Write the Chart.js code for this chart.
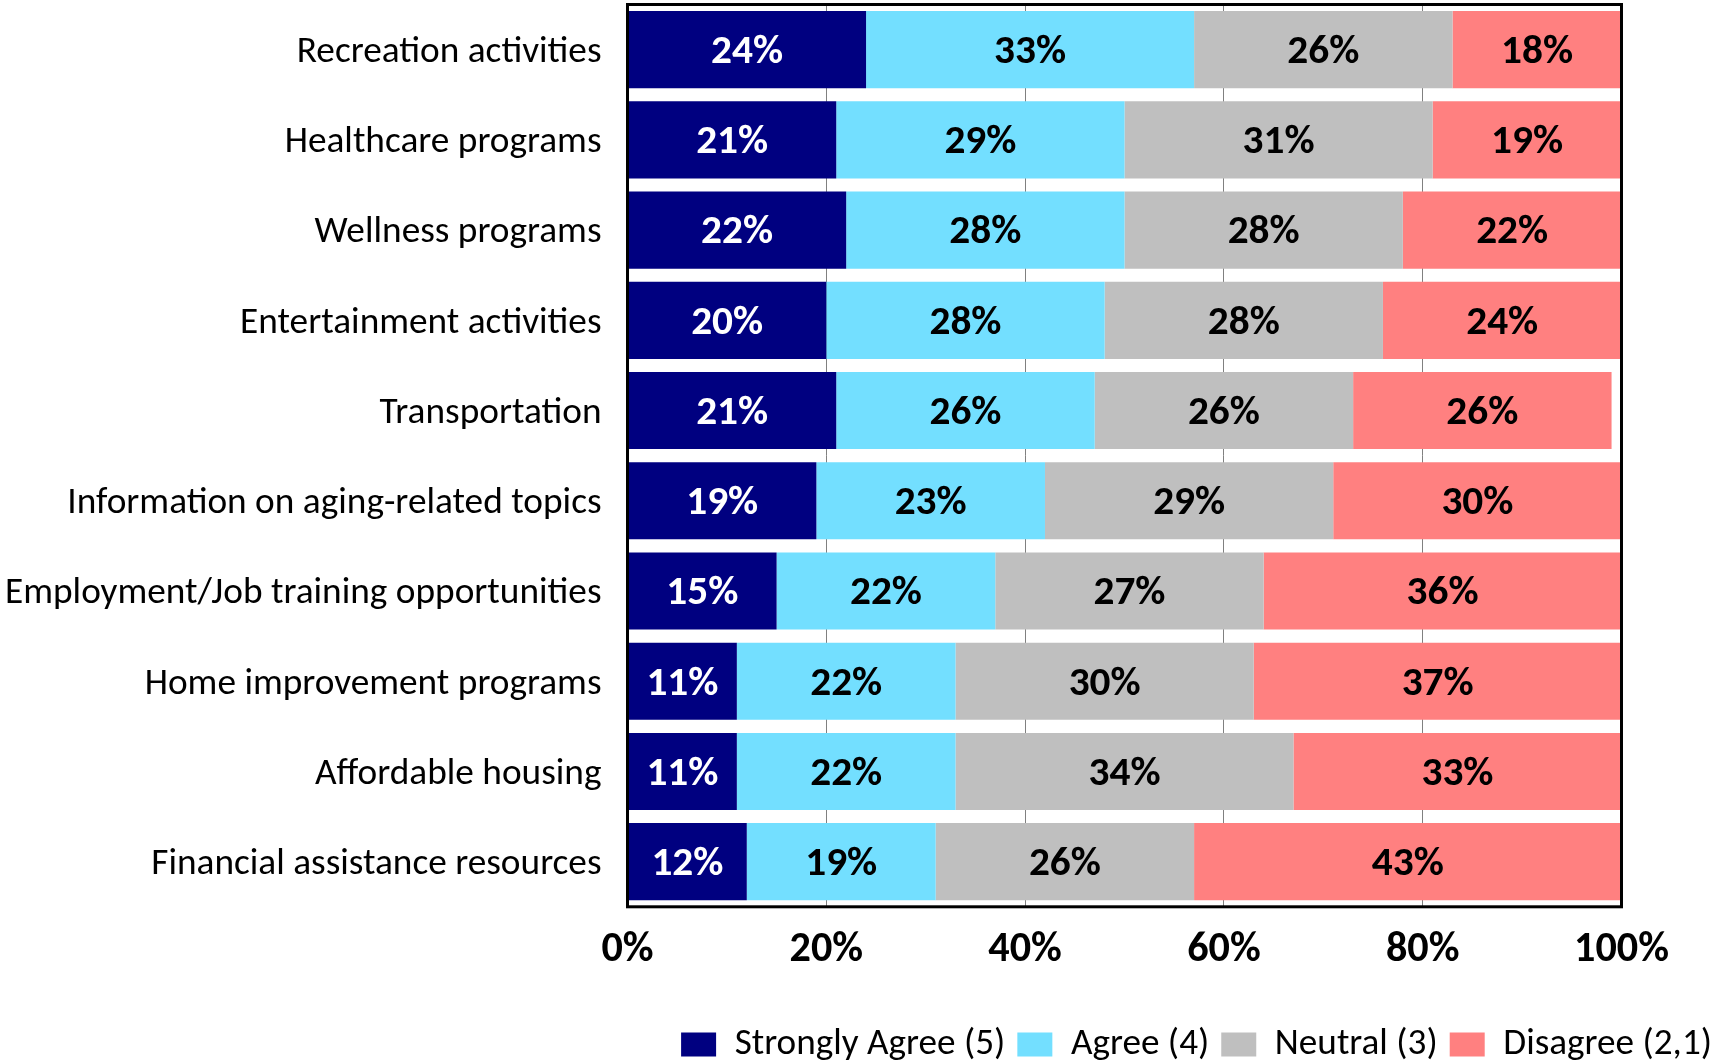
<!DOCTYPE html>
<html>
<head>
<meta charset="utf-8">
<title>Community services survey</title>
<script src="https://cdn.jsdelivr.net/npm/chart.js@4.4.1/dist/chart.umd.min.js"></script>
<style>
  html, body { margin: 0; padding: 0; background: #ffffff; }
  #wrap { position: relative; width: 1712px; height: 1063px; }
</style>
</head>
<body>
<div id="wrap"><canvas id="chart" width="1712" height="1063"></canvas></div>
<script>
// Survey items, top to bottom
const categories = [
  'Recreation activities',
  'Healthcare programs',
  'Wellness programs',
  'Entertainment activities',
  'Transportation',
  'Information on aging-related topics',
  'Employment/Job training opportunities',
  'Home improvement programs',
  'Affordable housing',
  'Financial assistance resources'
];

// Response shares (percent)
const stronglyAgree = [24, 21, 22, 20, 21, 19, 15, 11, 11, 12];
const agree         = [33, 29, 28, 28, 26, 23, 22, 22, 22, 19];
const neutral       = [26, 31, 28, 28, 26, 29, 27, 30, 34, 26];
const disagree      = [18, 19, 22, 24, 26, 30, 36, 37, 33, 43];

const seriesNames = ['Strongly Agree (5)', 'Agree (4)', 'Neutral (3)', 'Disagree (2,1)'];
const xTicks = [0, 20, 40, 60, 80, 100];

const FAMILY = 'Carlito, Lato, "Open Sans", sans-serif';

// Pick a font size so that a sample string spans a given width
function fitSize(text, width, weight) {
  const c = document.createElement('canvas').getContext('2d');
  c.font = weight + ' 100px ' + FAMILY;
  return Math.round(100 * width / c.measureText(text).width * 10) / 10;
}
const catSize    = fitSize('Employment/Job training opportunities', 596, 'normal');
const tickSize   = fitSize('100%', 95, 'bold');
const valueSize  = fitSize('24%', 72, 'bold');
const legendSize = fitSize('Strongly Agree (5)', 271, 'normal');

// Frame round the plot area and percentage labels centred in each segment
const segmentLabels = {
  id: 'segmentLabels',
  afterDatasetsDraw(chart) {
    const ctx = chart.ctx;
    const area = chart.chartArea;
    ctx.save();
    ctx.strokeStyle = '#000000';
    ctx.lineWidth = 3;
    ctx.strokeRect(area.left, area.top, area.right - area.left, area.bottom - area.top);
    ctx.restore();

    ctx.save();
    ctx.font = 'bold ' + valueSize + 'px ' + FAMILY;
    ctx.textAlign = 'center';
    ctx.textBaseline = 'middle';
    chart.data.datasets.forEach((ds, di) => {
      const meta = chart.getDatasetMeta(di);
      ctx.fillStyle = di === 0 ? '#ffffff' : '#000000';
      meta.data.forEach((bar, i) => {
        const x0 = Math.max(bar.base, area.left);
        const x1 = Math.min(bar.x, area.right);
        ctx.fillText(ds.data[i] + '%', (x0 + x1) / 2, bar.y + 3);
      });
    });
    ctx.restore();
  }
};

const colors = ['#000080', '#73dfff', '#bfbfbf', '#ff8080'];
const values = [stronglyAgree, agree, neutral, disagree];

// vertical axes should not push the plot area down with label overhang
function noOverhang(scale) {
  scale.paddingTop = 0;
  scale.paddingBottom = 0;
}

new Chart(document.getElementById('chart'), {
  type: 'bar',
  data: {
    labels: categories,
    datasets: values.map((v, i) => ({
      label: seriesNames[i],
      data: v,
      backgroundColor: colors[i],
      borderWidth: 0,
      barPercentage: 0.855,
      categoryPercentage: 1.0
    }))
  },
  options: {
    indexAxis: 'y',
    responsive: false,
    animation: false,
    devicePixelRatio: 1,
    layout: { padding: { top: 4.5, left: 0, right: -12, bottom: -10 } },
    scales: {
      x: {
        stacked: true,
        min: 0,
        max: 100,
        afterBuildTicks(scale) { scale.ticks = xTicks.map(v => ({ value: v })); },
        ticks: {
          callback: v => v + '%',
          color: '#000000',
          font: { family: FAMILY, size: tickSize, weight: 'bold' },
          padding: 18,
          maxRotation: 0
        },
        grid: { color: '#808080', lineWidth: 1, drawTicks: false },
        border: { display: false },
        afterFit(scale) { scale.height = 107; }
      },
      y: {
        stacked: true,
        ticks: {
          color: '#000000',
          font: { family: FAMILY, size: catSize },
          padding: 26,
          labelOffset: 3
        },
        grid: { display: false, drawTicks: false },
        border: { display: false },
        afterFit(scale) { scale.width = 627.5; noOverhang(scale); }
      },
      yRight: {
        type: 'category',
        position: 'right',
        ticks: { display: false },
        grid: { display: false, drawTicks: false },
        border: { display: false },
        afterFit(scale) { scale.width = 102.5; noOverhang(scale); }
      }
    },
    plugins: {
      legend: {
        position: 'bottom',
        align: 'end',
        labels: {
          color: '#000000',
          font: { family: FAMILY, size: legendSize },
          boxWidth: 35,
          boxHeight: 24,
          padding: 12
        }
      },
      tooltip: { enabled: false }
    }
  },
  plugins: [segmentLabels]
});
</script>
</body>
</html>
